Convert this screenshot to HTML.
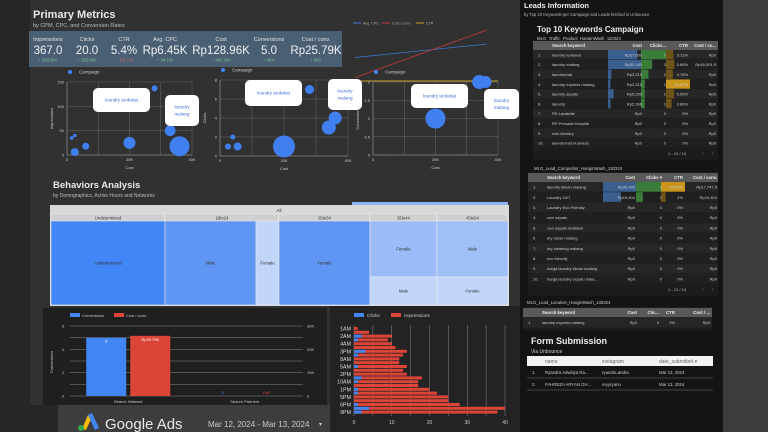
<!DOCTYPE html>
<html><head><meta charset="utf-8">
<style>
html,body{margin:0;padding:0;background:#2a2a2a;}
svg{display:block;font-family:"Liberation Sans",sans-serif;}
</style></head>
<body>
<svg id="s" width="768" height="432" viewBox="0 0 768 432" xmlns="http://www.w3.org/2000/svg">
<rect x="0" y="0" width="768" height="432" fill="#262626"/>
<rect x="30" y="0" width="490" height="405" fill="#313131"/>
<rect x="723" y="0" width="45" height="432" fill="#3c3c3c"/>
<rect x="520" y="0" width="203" height="432" fill="#141414"/>
<text x="33" y="18" font-size="11" font-weight="bold" fill="#e8e8e8">Primary Metrics</text>
<text x="33" y="27" font-size="5.5" fill="#bbb">by CPM, CPC, and Conversion Rates</text>
<g id="kpi"><rect x="29" y="31" width="313" height="36" fill="#4a5e74"/></g>
<g id="lines"></g>
<g id="sc"></g>
<text x="53" y="188" font-size="9.5" font-weight="bold" fill="#e8e8e8">Behaviors Analysis</text>
<text x="53" y="197" font-size="5" fill="#bbb">by Demographics, Active Hours and Networks</text>
<rect x="352" y="202" width="156" height="3" fill="#8fb3f5"/>
<g id="tm"></g>
<rect x="43" y="308" width="284" height="97" fill="#1f1f1f"/>
<g id="bc"></g>
<rect x="330" y="306" width="190" height="126" fill="#232323"/>
<g id="hb"></g>
<rect x="58" y="405" width="272" height="27" fill="#3d3d3d"/>
<g>
<polygon points="82,429 88,415 92,417 86,430" fill="#fbbc04"/>
<polygon points="88,415 92,413 99,428 95,430" fill="#4285f4"/>
<circle cx="81" cy="428" r="3" fill="#34a853"/>
</g>
<text x="105" y="429" font-size="15" fill="#e8e8e8">Google Ads</text>
<text x="208" y="427" font-size="8" fill="#ccc">Mar 12, 2024 - Mar 13, 2024</text>
<text x="319" y="426" font-size="6" fill="#ccc">▾</text>
<g id="leads"></g>
</svg>
<script>
var NS="http://www.w3.org/2000/svg";
function E(p,t,a,txt){var e=document.createElementNS(NS,t);for(var k in a)e.setAttribute(k,a[k]);if(txt!==undefined)e.textContent=txt;p.appendChild(e);return e;}
var $=function(i){return document.getElementById(i);};

var kpiLabels=["Impressions","Clicks","CTR","Avg. CPC","Cost","Conversions","Cost / conv."];
var kpiValues=["367.0","20.0","5.4%","Rp6.45K","Rp128.96K","5.0","Rp25.79K"];
var kpiDeltas=["↑ 619.6%","↑ 233.3%","↓ -53.7%","↑ 34.1%","↑ 347.1%","↑ N/A","↑ N/A"];
var kpiX=[48,87,124,165,221,269,316];
(function(){var g=$("kpi");for(var i=0;i<kpiLabels.length;i++){
var t=E(g,"text",{x:kpiX[i],y:41,"font-size":5.5,fill:"#e6e6e6","text-anchor":"middle"},kpiLabels[i]);

var v=E(g,"text",{x:kpiX[i],y:54,"font-size":11.5,fill:"#f0f0f0","text-anchor":"middle"},kpiValues[i]);

var d=E(g,"text",{x:kpiX[i],y:61.5,"font-size":4.5,fill:i==2?"#e06666":"#7fd18a","text-anchor":"middle"},kpiDeltas[i]);
}})();

var lineSeries=["Avg. CPC","Cost / conv.","CTR"];
var lineColors=["#3b78d8","#c53a3a","#c9a227"];
var lineStart=[0.45,0.05,0.0];
var lineEnd=[0.72,1.0,0.0];
(function(){var g=$("lines");E(g,"line",{x1:345,y1:13,x2:500,y2:13,stroke:"#3c3c3c","stroke-width":0.6});
var lx=[353,382,416];
for(var i=0;i<3;i++){E(g,"line",{x1:lx[i],y1:23,x2:lx[i]+8,y2:23,stroke:lineColors[i],"stroke-width":1});
E(g,"text",{x:lx[i]+10,y:24.5,"font-size":3.6,fill:"#aaa"},lineSeries[i]);}
function y(v){return 80-v*50;}
for(var i=0;i<2;i++){var l=E(g,"line",{x1:355,y1:y(lineStart[i]),x2:487,y2:y(lineEnd[i]),stroke:lineColors[i],"stroke-width":0.8});
}
var gl=E(g,"line",{x1:360,y1:81,x2:498,y2:81,stroke:lineColors[2],"stroke-width":1});
})();

var sc1Cost=[0,2.5,6,1.5,2.5,20,33,36,28];
var sc1Impr=[0,6,18,35,40,25,50,18,137];
var sc1Size=[0.5,4,3.5,1.8,1.8,6,5.5,10,3];
var sc2Cost=[0,2.5,4,5.5,20,28,34,36];
var sc2Clicks=[0,1,2,1,1,7,3,4];
var sc2Size=[0.5,3,2.5,4,11,4.5,7,6.5];
var sc3Cost=[0,2,5,20,34,36,28];
var sc3Conv=[0,0,0,1,2,2,0];
var sc3Size=[0.4,0.4,0.4,10,7,6,0.4];
function scatter(x0,y0,w,h,ymax,yt,ylab,cs,vs,ss,labels){
var g=$("sc");
E(g,"circle",{cx:x0+3,cy:y0-10,r:2,fill:"#4285f4"});
E(g,"text",{x:x0+12,y:y0-8.5,"font-size":4.5,fill:"#ccc"},"Campaign");
for(var i=0;i<yt.length;i++){var yy=y0+h-yt[i]/ymax*h;
E(g,"line",{x1:x0,y1:yy,x2:x0+w,y2:yy,stroke:"#777","stroke-width":0.4});
E(g,"text",{x:x0-3,y:yy+1.5,"font-size":4,fill:"#ccc","text-anchor":"end"},String(yt[i]));}
for(var k=0;k<=4;k++){var xx=x0+k*w/4;E(g,"line",{x1:xx,y1:y0,x2:xx,y2:y0+h,stroke:"#777","stroke-width":0.4});}
E(g,"line",{x1:x0,y1:y0,x2:x0,y2:y0+h,stroke:"#999","stroke-width":0.5});
E(g,"line",{x1:x0,y1:y0+h,x2:x0+w,y2:y0+h,stroke:"#999","stroke-width":0.5});
var xl=["0","20K","40K"];for(var k=0;k<3;k++)E(g,"text",{x:x0+k*w/2,y:y0+h+6,"font-size":4,fill:"#ccc","text-anchor":"middle"},xl[k]);
E(g,"text",{x:x0+w/2,y:y0+h+14,"font-size":4,fill:"#ccc","text-anchor":"middle"},"Cost");
E(g,"text",{x:0,y:0,"font-size":4,fill:"#ccc","text-anchor":"middle",transform:"translate("+(x0-14)+","+(y0+h/2)+") rotate(-90)"},ylab);
for(var i=0;i<cs.length;i++){var c=E(g,"circle",{cx:x0+cs[i]/40*w,cy:y0+h-vs[i]/ymax*h,r:ss[i],fill:"#3f7ff0"});
}
for(var i=0;i<labels.length;i++){var L=labels[i];
var r=E(g,"rect",{x:L[0],y:L[1],width:L[2],height:L[3],rx:5,fill:"#fff"});

var lines=L[4].split("|");for(var j=0;j<lines.length;j++)E(g,"text",{x:L[0]+L[2]/2,y:L[1]+L[3]/2+1.5+(j-(lines.length-1)/2)*7,"font-size":4.6,fill:"#3a6fd8","text-anchor":"middle"},lines[j]);}
}
scatter(67,82,125,73,150,[0,50,100,150],"Impressions",sc1Cost,sc1Impr,sc1Size,[[93,88,57,24,"loundry terdekat"],[165,95,34,31,"loundry|malang"]]);
scatter(220,80,128,76,8,[0,2,4,6,8],"Clicks",sc2Cost,sc2Clicks,sc2Size,[[245,80,57,26,"loundry terdekat"],[328,79,34,31,"loundry|malang"]]);
scatter(373,82,125,73,2,[0,0.5,1,1.5,2],"Conversions",sc3Cost,sc3Conv,sc3Size,[[411,84,57,24,"loundry terdekat"],[484,89,35,30,"loundry|malang"]]);

var tmGroups=["Undetermined","18to24","25to34","35to44","45to54"];
var tmCells=[["Undetermined",51,221,114,84,"#4285f4"],["Male",165,221,91,84,"#5f96f3"],["Female",256,221,23,84,"#c2d6fb"],["Female",279,221,91,84,"#5f96f3"],["Female",370,221,67,56,"#9bbcf8"],["Male",370,277,67,28,"#c2d6fb"],["Male",437,221,71,56,"#9fbff8"],["Female",437,277,71,28,"#c2d6fb"]];
var tmGx=[51,165,279,370,437,508];
(function(){var g=$("tm");E(g,"rect",{x:50,y:205,width:459,height:101,fill:"#d9d9d9"});
E(g,"text",{x:279,y:212,"font-size":4.5,fill:"#333","text-anchor":"middle"},"All");
for(var i=0;i<tmGroups.length;i++){E(g,"rect",{x:tmGx[i],y:214,width:tmGx[i+1]-tmGx[i]-0.6,height:7,fill:"#d0d0d0",stroke:"#eee","stroke-width":0.4});
E(g,"text",{x:(tmGx[i]+tmGx[i+1])/2,y:219.5,"font-size":4.2,fill:"#333","text-anchor":"middle"},tmGroups[i]);}
for(var i=0;i<tmCells.length;i++){var c=tmCells[i];var r=E(g,"rect",{x:c[1],y:c[2],width:c[3],height:c[4],fill:c[5],stroke:"#e6e6e6","stroke-width":0.6});

E(g,"text",{x:c[1]+c[3]/2,y:c[2]+c[4]/2+1.5,"font-size":4.3,fill:"#333","text-anchor":"middle"},c[0]);}})();

var netCats=["Search Network","Search Partners"];
var netConv=[5,0];
var netCost=[25.79,0];
var netCostLbl=["Rp25.79K","Rp0"];
(function(){var g=$("bc");var x0=70,x1=303,y0=396,h=70;
E(g,"rect",{x:70,y:313,width:10,height:4,fill:"#4285f4"});E(g,"text",{x:82,y:317,"font-size":4,fill:"#ccc"},"Conversions");
E(g,"rect",{x:114,y:313,width:10,height:4,fill:"#db4437"});E(g,"text",{x:126,y:317,"font-size":4,fill:"#ccc"},"Cost / conv.");
for(var k=0;k<=6;k++){var yy=y0-k/6*h;E(g,"line",{x1:x0,y1:yy,x2:x1,y2:yy,stroke:"#888","stroke-width":0.5});}
var lt=[0,2,4,6];for(var k=0;k<4;k++)E(g,"text",{x:64,y:y0-lt[k]/6*h+1.5,"font-size":4,fill:"#ccc","text-anchor":"end"},String(lt[k]));
var rt=["0","10K","20K","30K"];for(var k=0;k<4;k++)E(g,"text",{x:307,y:y0-k/3*h+1.5,"font-size":4,fill:"#ccc"},rt[k]);
E(g,"text",{x:0,y:0,"font-size":4,fill:"#ccc","text-anchor":"middle",transform:"translate(53,362) rotate(-90)"},"Conversions");
for(var i=0;i<netCats.length;i++){var cx=x0+ (i+0.5)*(x1-x0)/2;
var hb=netConv[i]/6*h;var b=E(g,"rect",{x:cx-42,y:y0-hb,width:40,height:hb,fill:"#4285f4"});

var hr=netCost[i]/30*h;var r=E(g,"rect",{x:cx+2,y:y0-hr,width:40,height:hr,fill:"#db4437"});

E(g,"text",{x:cx-22,y:y0-hb+(hb>5?5:-2),"font-size":4,fill:hb>5?"#fff":"#4285f4","text-anchor":"middle"},String(netConv[i]));
E(g,"text",{x:cx+22,y:y0-hr+(hr>5?5:-2),"font-size":4,fill:hr>5?"#fff":"#db4437","text-anchor":"middle"},netCostLbl[i]);
E(g,"text",{x:cx,y:403,"font-size":4,fill:"#ccc","text-anchor":"middle"},netCats[i]);}})();

var hourCats=["1AM","12AM","2AM","11PM","4AM","7AM","3PM","6AM","8AM","3AM","5AM","9AM","2PM","11AM","10AM","12PM","1PM","4PM","5PM","7PM","6PM","8PM","9PM"];
var hourImpr=[1,4,10,9,10,11,14,13,12,12,14,13,14,18,17,17,20,22,25,25,28,40,38];
var hourClicks=[0,0,2,1,0,0,3,1,0,0,1,0,0,2,1,0,1,1,0,0,1,4,2];
(function(){var g=$("hb");var x0=354,w=151,xmax=40,y0=327,step=3.8;
E(g,"rect",{x:354,y:313,width:10,height:4,fill:"#4285f4"});E(g,"text",{x:367,y:317,"font-size":4.8,fill:"#ccc"},"Clicks");
E(g,"rect",{x:391,y:313,width:10,height:4,fill:"#db4437"});E(g,"text",{x:404,y:317,"font-size":4.8,fill:"#ccc"},"Impressions");
for(var k=0;k<=8;k++){var xx=x0+k*5/xmax*w;E(g,"line",{x1:xx,y1:325,x2:xx,y2:416,stroke:"#888","stroke-width":0.5});}
for(var k=0;k<=4;k++)E(g,"text",{x:x0+k*10/xmax*w,y:424,"font-size":5,fill:"#ccc","text-anchor":"middle"},String(k*10));
for(var i=0;i<hourCats.length;i++){var yy=y0+i*step;
var r=E(g,"rect",{x:x0,y:yy,width:hourImpr[i]/xmax*w,height:step-0.8,fill:"#db4437"});

if(hourClicks[i]>0){var b=E(g,"rect",{x:x0,y:yy,width:hourClicks[i]/xmax*w,height:step-0.8,fill:"#4285f4"});
}
if(i%2==0)E(g,"text",{x:351,y:yy+3.5,"font-size":5.3,fill:"#ddd","text-anchor":"end"},hourCats[i]);}})();

var t1Kw=["loundry terdekat","laundry malang","laundromat","laundry express malang","laundry sepatu","laundry","RS Lavalette","RS Persada Hospital","coin laundry","laundromat business"];
var t1Cost=["Rp27,650","Rp33,183","Rp3,219","Rp2,215","Rp5,299","Rp2,396","Rp0","Rp0","Rp0","Rp0"];
var t1Clicks=[7,3,2,1,1,1,0,0,0,0];
var t1Ctr=["5.11%","5.88%","4.76%","16.67%","5.56%","3.86%","0%","0%","0%","0%"];
var t1Cpc=["Rp0","Rp16,591.5","Rp0","Rp0","Rp0","Rp0","Rp0","Rp0","Rp0","Rp0"];
var t2Kw=["laundry kiloan malang","Laundry 24/7","Laundry Eco Friendly","cuci sepatu","cuci sepatu terdekat","dry clean malang","dry cleaning malang","eco friendly","harga laundry kiloan malang","harga laundry sepatu mala..."];
var t2Cost=["Rp35,495","Rp19,404","Rp0","Rp0","Rp0","Rp0","Rp0","Rp0","Rp0","Rp0"];
var t2Clicks=[4,1,0,0,0,0,0,0,0,0];
var t2Ctr=["20.53%","4%","0%","0%","0%","0%","0%","0%","0%","0%"];
var t2Cpc=["Rp17,747.5","Rp19,404","Rp0","Rp0","Rp0","Rp0","Rp0","Rp0","Rp0","Rp0"];
(function(){var g=$("leads");
E(g,"text",{x:524,y:8,"font-size":7.5,"font-weight":"bold",fill:"#eee"},"Leads Information");
E(g,"text",{x:524,y:16,"font-size":4.2,fill:"#bbb"},"by Top 10 Keywords per Campaign and Leads fetched in Unbounce");
E(g,"text",{x:537,y:32,"font-size":8,"font-weight":"bold",fill:"#eee"},"Top 10 Keywords Campaign");
E(g,"text",{x:537,y:40,"font-size":4.3,fill:"#ccc"},"MLG_Traffic_Product_HanginWash_110324");
function table(x,y,w,rh,cols,cw,kw,cost,clicks,ctr,cpc,hdr,maxCost,maxCl,maxCtr,footer){
E(g,"rect",{x:x,y:y-1,width:w,height:rh*kw.length+12+(footer?10:0),fill:"#1c1c1c"});
E(g,"rect",{x:x,y:y,width:w,height:9,fill:"#595959"});
for(var c=0;c<hdr.length;c++)E(g,"text",{x:x+cols[c],y:y+6.2,"font-size":4.3,"font-weight":"bold",fill:"#eee","text-anchor":c>0?"end":"start"},hdr[c]);
for(var i=0;i<kw.length;i++){var yy=y+9+i*rh;
E(g,"rect",{x:x,y:yy,width:w,height:rh-0.5,fill:i%2?"#202020":"#262626"});
var cv=parseFloat(cost[i].replace(/[Rp,]/g,""));
var l1=x+cols[1]+1-cw[0],l2=x+cols[2]+1-cw[1],l3=x+cols[3]+2-cw[2];
if(cv>0){E(g,"rect",{x:l1,y:yy,width:cv/maxCost*cw[0],height:rh-0.5,fill:"#3a5f8f"});}
if(clicks[i]>0){E(g,"rect",{x:l2,y:yy,width:clicks[i]/maxCl*cw[1],height:rh-0.5,fill:"#3a7d3a"});}
var ct=parseFloat(ctr[i]);if(ct>0){E(g,"rect",{x:l3,y:yy,width:ct/maxCtr*cw[2],height:rh-0.5,fill:ct>=maxCtr?"#c9951b":"#6e5418"});}
E(g,"text",{x:x+5,y:yy+rh/2+1.5,"font-size":4,fill:"#ccc"},(i+1)+".");
var k=E(g,"text",{x:x+cols[0],y:yy+rh/2+1.5,"font-size":4,fill:"#ccc"},kw[i]);

E(g,"text",{x:x+cols[1],y:yy+rh/2+1.5,"font-size":4,fill:"#ccc","text-anchor":"end"},cost[i]);
E(g,"text",{x:x+cols[2],y:yy+rh/2+1.5,"font-size":4,fill:"#ccc","text-anchor":"end"},String(clicks[i]));
E(g,"text",{x:x+cols[3],y:yy+rh/2+1.5,"font-size":4,fill:"#ccc","text-anchor":"end"},ctr[i]);
E(g,"text",{x:x+cols[4],y:yy+rh/2+1.5,"font-size":4,fill:"#ccc","text-anchor":"end"},cpc[i]);}
if(footer){var fy=y+9+kw.length*rh+7;E(g,"text",{x:x+w-32,y:fy,"font-size":4,fill:"#bbb","text-anchor":"end"},footer);
E(g,"text",{x:x+w-16,y:fy,"font-size":5,fill:"#888"},"‹");E(g,"text",{x:x+w-6,y:fy,"font-size":5,fill:"#888"},"›");}}
table(533,41,185,9.8,[19,109,133,155,183],[35,26,24],t1Kw,t1Cost,t1Clicks,t1Ctr,t1Cpc,["Search keyword","Cost","Clicks...","CTR","Cost / co..."],33183,7,16.67,"1 - 10 / 10");
E(g,"text",{x:534,y:170,"font-size":4.3,fill:"#ccc"},"MLG_Lead_Competitor_HanginWash_130324");
table(528,173,190,10.2,[19,107,134,155,189],[33,27,24],t2Kw,t2Cost,t2Clicks,t2Ctr,t2Cpc,["Search keyword","Cost","Clicks ▾","CTR","Cost / conv."],35495,4,20.53,"1 - 13 / 13");
E(g,"text",{x:527,y:304,"font-size":4.3,fill:"#ccc"},"MLG_Lead_Location_HanginWash_130324");
table(523,308,189,11,[19,114,136,152,187],[20,20,16],["laundry express malang"],["Rp0"],[0],["0%"],["Rp0"],["Search keyword","Cost","Clic...","CTR","Cost / ..."],1,1,1,null);
E(g,"text",{x:531,y:344,"font-size":9,"font-weight":"bold",fill:"#eee"},"Form Submission");
E(g,"text",{x:531,y:353,"font-size":5,fill:"#ccc"},"Via Unbounce");
E(g,"rect",{x:527,y:356,width:186,height:10,fill:"#f2f2f2"});
E(g,"text",{x:545,y:363,"font-size":5,fill:"#666"},"name");E(g,"text",{x:602,y:363,"font-size":5,fill:"#666"},"instagram");E(g,"text",{x:659,y:363,"font-size":5,fill:"#666"},"date_submitted ▾");
var fn=["Ryandra Adwitiya Ra...","FAHREZA ARYAN GH..."],fi=["ryandra.andra","reyyryann"];
for(var i=0;i<2;i++){var yy=374+i*12;E(g,"text",{x:532,y:yy,"font-size":4.3,fill:"#ccc"},(i+1)+".");
E(g,"text",{x:545,y:yy,"font-size":4.3,fill:"#ccc"},fn[i]);E(g,"text",{x:602,y:yy,"font-size":4.3,fill:"#ccc"},fi[i]);
E(g,"text",{x:659,y:yy,"font-size":4.3,fill:"#ccc"},"Mar 13, 2024");
E(g,"line",{x1:527,y1:yy+4,x2:713,y2:yy+4,stroke:"#777","stroke-width":0.6});}})();
</script>
</body></html>
